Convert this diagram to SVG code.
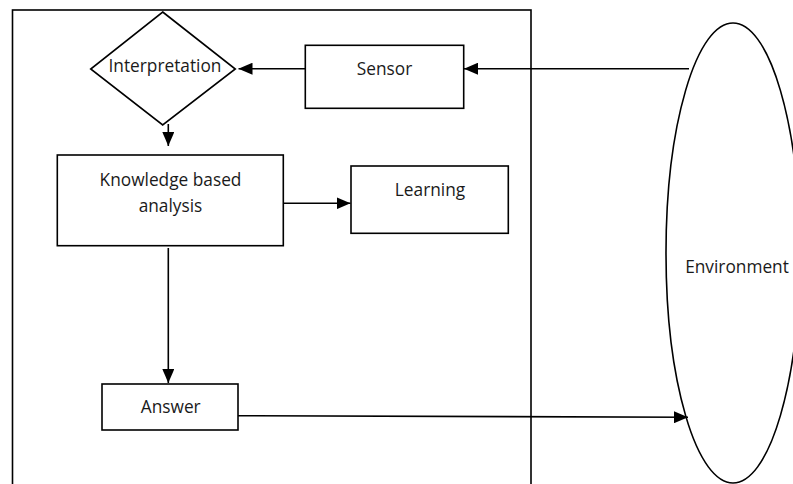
<svg xmlns="http://www.w3.org/2000/svg" width="793" height="484" viewBox="0 0 793 484">
<style>
.shape{fill:#fff;stroke:#000;stroke-width:1.6}
.frame{fill:none;stroke:#000;stroke-width:1.6}
.lbl{font-family:"Open Sans","Liberation Sans",sans-serif;font-size:17.3px;fill:#1a1a1a;text-anchor:middle}
.conn{stroke:#000;stroke-width:1.6;fill:none;marker-end:url(#arr)}
</style>
<defs>
<marker id="arr" markerUnits="userSpaceOnUse" markerWidth="14" markerHeight="12" refX="14" refY="6" orient="auto">
<path d="M0,0 L14,6 L0,12 z" fill="#000"/>
</marker>
</defs>
<rect width="793" height="484" fill="#fff"/>
<g id="system-boundary">
<rect class="frame" x="12.5" y="10" width="518.5" height="490"/>
</g>
<g id="environment">
<ellipse class="shape" cx="733" cy="253" rx="67" ry="230"/>
<text class="lbl" x="737" y="272.5">Environment</text>
</g>
<g id="interpretation">
<polygon class="shape" points="162.7,12 235.3,69 162.7,125 90.7,69"/>
<text class="lbl" x="165" y="71.5">Interpretation</text>
</g>
<g id="sensor">
<rect class="shape" x="305.3" y="45.3" width="158.4" height="63"/>
<text class="lbl" x="384.5" y="75">Sensor</text>
</g>
<g id="knowledge">
<rect class="shape" x="57.3" y="155" width="226" height="90.7"/>
<text class="lbl" x="170.5" y="185.5">Knowledge based</text>
<text class="lbl" x="170.5" y="211.5">analysis</text>
</g>
<g id="learning">
<rect class="shape" x="351" y="166" width="157.3" height="67.3"/>
<text class="lbl" x="430" y="195.5">Learning</text>
</g>
<g id="answer">
<rect class="shape" x="102" y="384" width="136" height="46"/>
<text class="lbl" x="170.7" y="412.5">Answer</text>
</g>
<g id="connectors">
<line class="conn" x1="689" y1="68.7" x2="464" y2="68.7"/>
<line class="conn" x1="305.3" y1="68.7" x2="238.5" y2="68.7"/>
<line class="conn" x1="168.3" y1="124" x2="168.3" y2="146"/>
<line class="conn" x1="283.3" y1="203.3" x2="350.5" y2="203.3"/>
<line class="conn" x1="168.3" y1="248" x2="168.3" y2="383"/>
<line class="conn" x1="238" y1="415.7" x2="688" y2="417.3"/>
</g>
</svg>
